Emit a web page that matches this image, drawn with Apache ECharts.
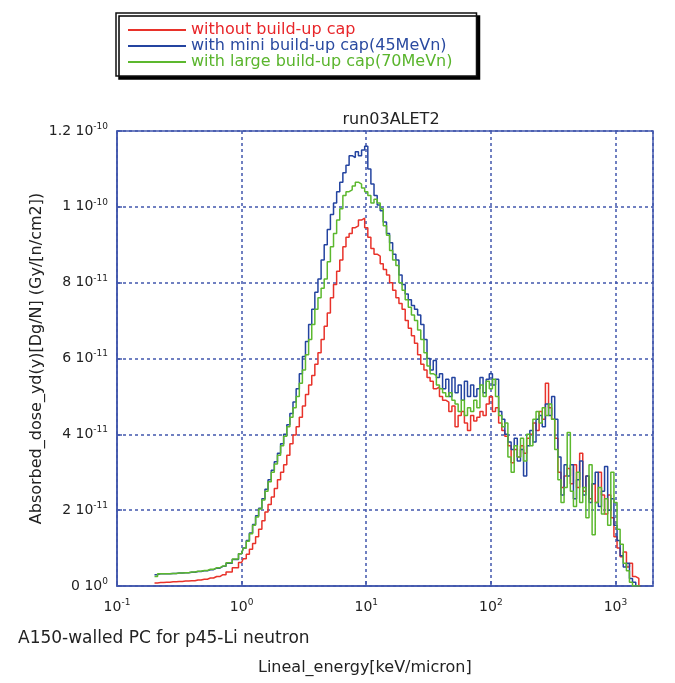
<!DOCTYPE html>
<html>
<head>
<meta charset="utf-8">
<script src="https://cdn.jsdelivr.net/npm/echarts@6/dist/echarts.min.js"></script>
<style>
html, body { margin: 0; padding: 0; background: #fff; }
#chart { width: 675px; height: 683px; }
</style>
</head>
<body>
<div id="chart"></div>
<script>
// lineal energy bin centres [keV/micron]; finer bins above 1
var energy = [0.200, 0.224, 0.251, 0.282, 0.316, 0.355, 0.398, 0.447, 0.501, 0.562,
	0.631, 0.708, 0.794, 0.891,
	1.00, 1.06, 1.12, 1.19, 1.26, 1.33, 1.41, 1.50, 1.58, 1.68,
	1.78, 1.88, 2.00, 2.11, 2.24, 2.37, 2.51, 2.66, 2.82, 2.99,
	3.16, 3.35, 3.55, 3.76, 3.98, 4.22, 4.47, 4.73, 5.01, 5.31,
	5.62, 5.96, 6.31, 6.68, 7.08, 7.50, 7.94, 8.41, 8.91, 9.44,
	10.0, 10.6, 11.2, 11.9, 12.6, 13.3, 14.1, 15.0, 15.8, 16.8,
	17.8, 18.8, 20.0, 21.1, 22.4, 23.7, 25.1, 26.6, 28.2, 29.9,
	31.6, 33.5, 35.5, 37.6, 39.8, 42.2, 44.7, 47.3, 50.1, 53.1,
	56.2, 59.6, 63.1, 66.8, 70.8, 75.0, 79.4, 84.1, 89.1, 94.4,
	100, 106, 112, 119, 126, 133, 141, 150, 158, 168,
	178, 188, 200, 211, 224, 237, 251, 266, 282, 299,
	316, 335, 355, 376, 398, 422, 447, 473, 501, 531,
	562, 596, 631, 668, 708, 750, 794, 841, 891, 944,
	1000, 1060, 1120, 1190, 1260, 1330, 1410, 1500, 1580];

// absorbed dose yd(y), in units of 1e-11
var noCap = [0.08, 0.09, 0.10, 0.11, 0.12, 0.13, 0.14, 0.16, 0.18, 0.21,
	0.25, 0.30, 0.37, 0.48,
	0.62, 0.72, 0.84, 0.97, 1.12, 1.30, 1.50, 1.72, 1.95, 2.15,
	2.35, 2.57, 2.80, 3.00, 3.20, 3.45, 3.75, 3.98, 4.20, 4.45,
	4.75, 5.05, 5.30, 5.55, 5.85, 6.15, 6.50, 6.85, 7.20, 7.60,
	7.95, 8.30, 8.60, 8.95, 9.20, 9.30, 9.45, 9.50, 9.65, 9.70,
	9.45, 9.20, 8.90, 8.75, 8.70, 8.50, 8.35, 8.20, 8.00, 7.80,
	7.60, 7.45, 7.30, 7.00, 6.80, 6.60, 6.40, 6.10, 5.85, 5.70,
	5.50, 5.40, 5.20, 5.25, 5.00, 4.90, 4.85, 4.60, 4.75, 4.20,
	4.50, 4.60, 4.30, 4.10, 4.50, 4.35, 4.45, 4.60, 4.50, 4.80,
	5.00, 4.60, 4.70, 4.30, 4.10, 3.95, 3.70, 3.25, 3.60, 3.40,
	3.70, 3.50, 3.90, 4.00, 4.30, 4.10, 4.60, 4.40, 5.35, 4.70,
	4.40, 3.90, 3.00, 2.60, 2.90, 3.10, 2.70, 3.20, 2.60, 3.50,
	2.50, 2.90, 2.30, 2.70, 2.20, 3.00, 2.40, 1.90, 2.40, 1.80,
	1.30, 1.00, 0.77, 0.90, 0.50, 0.60, 0.25, 0.20, 0.00];

var miniCap = [0.30, 0.32, 0.32, 0.33, 0.34, 0.35, 0.36, 0.38, 0.40, 0.43,
	0.47, 0.52, 0.60, 0.70,
	0.85, 1.00, 1.20, 1.40, 1.62, 1.85, 2.05, 2.30, 2.55, 2.80,
	3.05, 3.28, 3.50, 3.75, 4.00, 4.25, 4.55, 4.85, 5.20, 5.60,
	6.05, 6.45, 6.90, 7.30, 7.75, 8.10, 8.60, 9.00, 9.40, 9.80,
	10.10, 10.40, 10.65, 10.90, 11.10, 11.35, 11.30, 11.45, 11.35, 11.50,
	11.60, 11.00, 10.60, 10.30, 10.05, 9.90, 9.60, 9.30, 9.05, 8.75,
	8.60, 8.20, 7.95, 7.70, 7.55, 7.40, 7.30, 7.15, 6.90, 6.50,
	6.00, 5.70, 5.95, 5.50, 5.60, 5.20, 5.45, 5.00, 5.50, 5.10,
	5.30, 4.90, 5.40, 5.00, 5.30, 5.00, 5.20, 5.50, 5.10, 5.45,
	5.60, 5.30, 5.45, 4.60, 4.40, 4.00, 3.80, 3.60, 3.90, 3.30,
	3.60, 2.90, 3.70, 4.10, 3.80, 4.40, 4.50, 4.20, 4.80, 4.50,
	5.00, 4.40, 3.40, 2.40, 3.20, 2.90, 3.20, 2.30, 2.80, 3.30,
	2.40, 2.90, 2.20, 2.70, 3.00, 2.10, 2.50, 3.15, 2.00, 2.30,
	1.60, 1.20, 0.80, 0.50, 0.60, 0.20, 0.10, 0.00, 0.00];

var largeCap = [0.25, 0.32, 0.32, 0.33, 0.34, 0.35, 0.37, 0.39, 0.41, 0.44,
	0.48, 0.53, 0.61, 0.71,
	0.85, 1.00, 1.18, 1.38, 1.60, 1.82, 2.03, 2.27, 2.50, 2.75,
	3.00, 3.22, 3.45, 3.70, 3.95, 4.20, 4.45, 4.70, 5.00, 5.35,
	5.70, 6.10, 6.50, 6.90, 7.30, 7.60, 7.85, 8.10, 8.55, 8.95,
	9.30, 9.65, 9.95, 10.30, 10.40, 10.45, 10.55, 10.65, 10.60, 10.50,
	10.40, 10.30, 10.10, 10.20, 10.10, 9.95, 9.50, 9.25, 8.85, 8.60,
	8.45, 8.00, 7.80, 7.55, 7.35, 7.15, 7.00, 6.75, 6.50, 6.15,
	5.80, 5.60, 5.55, 5.30, 5.20, 5.10, 5.00, 5.10, 4.90, 4.80,
	4.60, 4.90, 4.50, 4.70, 4.60, 4.90, 4.70, 5.30, 5.00, 5.40,
	5.20, 5.45, 5.00, 4.50, 4.20, 4.30, 3.40, 3.00, 3.70, 3.40,
	3.90, 3.30, 4.00, 3.70, 4.40, 4.60, 4.30, 4.70, 4.50, 4.80,
	4.40, 3.60, 2.80, 2.20, 2.60, 4.05, 2.50, 2.10, 3.00, 2.20,
	2.60, 1.80, 3.20, 1.35, 2.20, 2.60, 1.90, 2.30, 1.60, 3.00,
	2.20, 1.50, 1.10, 0.60, 0.40, 0.10, 0.00, 0.00, 0.00];

var yTicks = {
	0: ["0 10", "0"],
	2: ["2 10", "-11"],
	4: ["4 10", "-11"],
	6: ["6 10", "-11"],
	8: ["8 10", "-11"],
	10: ["1 10", "-10"],
	12: ["1.2 10", "-10"]
};
var xTicks = {
	"0.1": "-1",
	"1": "0",
	"10": "1",
	"100": "2",
	"1000": "3"
};

var axisBlue = "#4257ad";
var font = "DejaVu Sans, Verdana, sans-serif";
var textColor = "#222";

function pairs(xs, ys) {
	var out = [];
	for (var i = 0; i < ys.length; i++) {
		out.push([xs[i], ys[i]]);
	}
	return out;
}

var chart = echarts.init(document.getElementById("chart"));
var option = {
	animation: false,
	backgroundColor: "#fff",
	textStyle: { fontFamily: font },
	title: {
		text: "run03ALET2",
		left: 386,
		textAlign: "center",
		top: 107,
		textStyle: { fontSize: 16, fontWeight: "normal", color: textColor, fontFamily: font }
	},
	legend: {
		left: 116,
		top: 13,
		orient: "vertical",
		icon: "rect",
		itemWidth: 58,
		itemHeight: 2,
		itemGap: 0,
		padding: [9, 24, 6, 12],
		backgroundColor: "#fff",
		borderColor: "#111",
		borderWidth: 1.5,
		shadowColor: "#000",
		shadowOffsetX: 3,
		shadowOffsetY: 3,
		shadowBlur: 0,
		textStyle: { fontSize: 16, lineHeight: 16, fontFamily: font },
		data: [
			{ name: "without build-up cap", textStyle: { color: "#e8262a" } },
			{ name: "with mini build-up cap(45MeVn)", textStyle: { color: "#2a4aa0" } },
			{ name: "with large build-up cap(70MeVn)", textStyle: { color: "#5ab52d" } }
		]
	},
	grid: {
		left: 117,
		right: 22,
		top: 131,
		bottom: 97,
		show: true,
		borderColor: axisBlue,
		borderWidth: 1.5
	},
	xAxis: {
		type: "log",
		logBase: 10,
		min: 0.1,
		max: 2000,
		axisLine: { lineStyle: { color: axisBlue, width: 1.5 } },
		axisTick: { inside: true, length: 5, lineStyle: { color: axisBlue, width: 1.5 } },
		minorTick: { show: false },
		splitLine: { show: true, lineStyle: { color: axisBlue, type: [3, 3], width: 1.5 } },
		axisLabel: {
			showMaxLabel: false,
			margin: 12,
			formatter: function (v) {
				var key = String(+v.toPrecision(3));
				if (xTicks[key] === undefined) return "";
				return "{b|10}{s|" + xTicks[key] + "}";
			},
			rich: {
				b: { fontSize: 14, color: textColor, fontFamily: font },
				s: { fontSize: 9, color: textColor, fontFamily: font, padding: [0, 0, 9, 0] }
			}
		}
	},
	yAxis: {
		type: "value",
		min: 0,
		max: 12,
		interval: 2,
		name: "Absorbed_dose_yd(y)[Dg/N] (Gy/[n/cm2])",
		nameLocation: "middle",
		nameGap: 72,
		nameMoveOverlap: false,
		nameTextStyle: { fontSize: 16, color: textColor, fontFamily: font },
		axisLine: { show: true, lineStyle: { color: axisBlue, width: 1.5 } },
		axisTick: { show: true, inside: true, length: 5, lineStyle: { color: axisBlue, width: 1.5 } },
		splitLine: { show: true, lineStyle: { color: axisBlue, type: [3, 3], width: 1.5 } },
		axisLabel: {
			margin: 9,
			formatter: function (v) {
				var t = yTicks[v];
				if (!t) return "";
				return "{b|" + t[0] + "}{s|" + t[1] + "}";
			},
			rich: {
				b: { fontSize: 14, color: textColor, fontFamily: font },
				s: { fontSize: 9, color: textColor, fontFamily: font, padding: [0, 0, 9, 0] }
			}
		}
	},
	graphic: [
		{
			type: "text",
			left: 18,
			top: 630,
			style: { text: "A150-walled PC for p45-Li neutron", fontSize: 17, fill: textColor, fontFamily: font }
		},
		{
			type: "text",
			left: 258,
			top: 660,
			style: { text: "Lineal_energy[keV/micron]", fontSize: 16, fill: textColor, fontFamily: font }
		}
	],
	series: [
		{
			name: "without build-up cap",
			type: "line",
			step: "middle",
			symbol: "none",
			lineStyle: { color: "#e8322a", width: 1.5 },
			itemStyle: { color: "#e8322a" },
			data: pairs(energy, noCap)
		},
		{
			name: "with mini build-up cap(45MeVn)",
			type: "line",
			step: "middle",
			symbol: "none",
			lineStyle: { color: "#2444a0", width: 1.5 },
			itemStyle: { color: "#2444a0" },
			data: pairs(energy, miniCap)
		},
		{
			name: "with large build-up cap(70MeVn)",
			type: "line",
			step: "middle",
			symbol: "none",
			lineStyle: { color: "#5cb82e", width: 1.5 },
			itemStyle: { color: "#5cb82e" },
			data: pairs(energy, largeCap)
		}
	]
};
chart.setOption(option);
</script>
</body>
</html>
